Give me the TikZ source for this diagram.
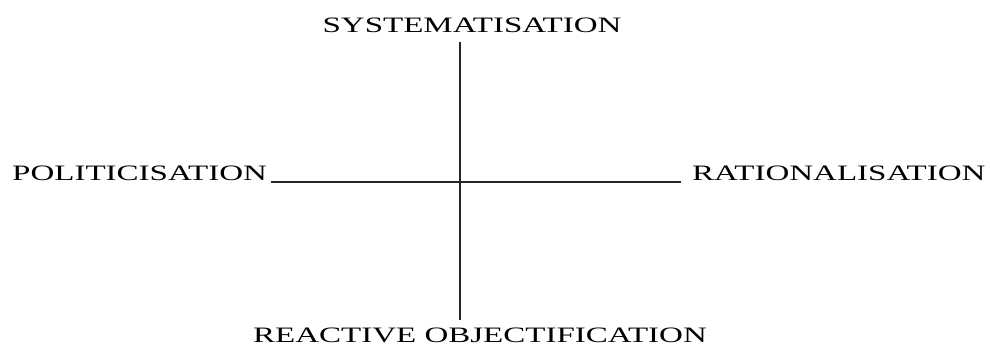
\documentclass[tikz,border=0pt]{standalone}
\usepackage{fontspec}
\setmainfont{Liberation Serif}
\newcommand{\widetext}[1]{\scalebox{1.5}[1]{#1}}
\begin{document}
\begin{tikzpicture}[x=1pt,y=-1pt,
  lbl/.style={inner sep=0pt,font=\fontsize{22}{24}\selectfont},
  axis/.style={line width=1.1pt,black!85}]
\useasboundingbox[fill=white] (0,0) rectangle (990,351);
\node[lbl,anchor=base] (sys) at (472,32) {\widetext{SYSTEMATISATION}};
\node[lbl,anchor=base west] (pol) at (12,180) {\widetext{POLITICISATION}};
\node[lbl,anchor=base west] (rat) at (692,180) {\widetext{RATIONALISATION}};
\node[lbl,anchor=base] (rea) at (480,342) {\widetext{REACTIVE OBJECTIFICATION}};
\coordinate (top) at (460,42);
\coordinate (bot) at (460,320);
\coordinate (lft) at (271,182);
\coordinate (rgt) at (681,182);
\draw[axis] (top) -- (bot);
\draw[axis] (lft) -- (rgt);
\end{tikzpicture}
\end{document}
